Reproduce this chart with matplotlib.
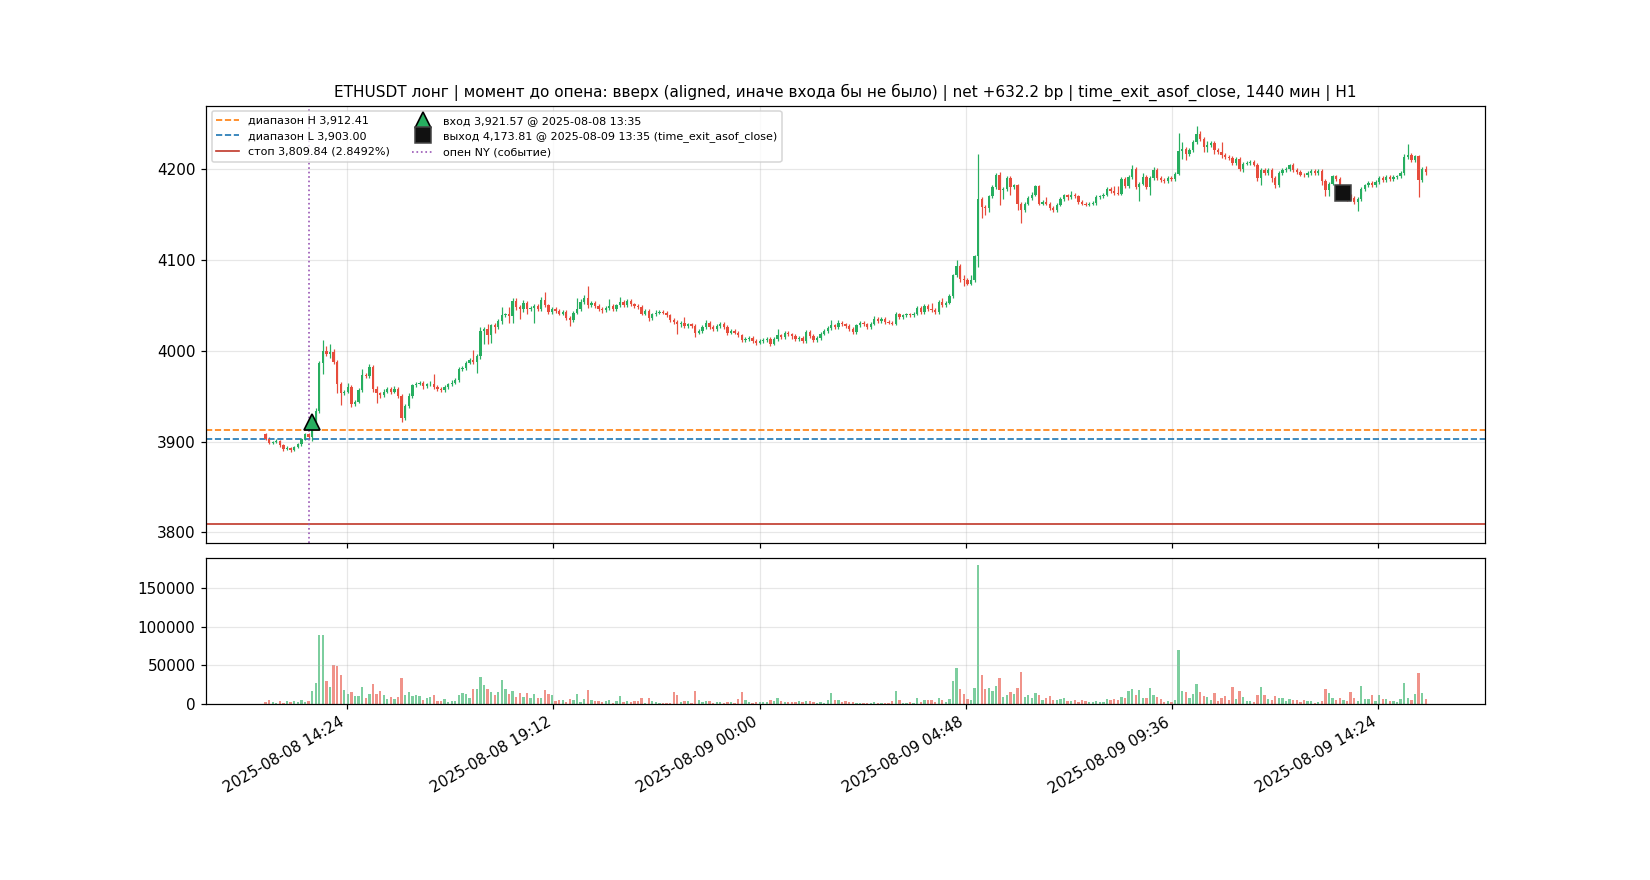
# ETHUSDT 5m candles around the NY open, long trade with 1440 min time exit

import numpy as np
import pandas as pd
import matplotlib
matplotlib.use("Agg")
import matplotlib.pyplot as plt
import matplotlib.dates as mdates
from matplotlib.ticker import MultipleLocator

# --- data ---
start_time = "2025-08-08 12:30"
first_open = 3908

# closes, one row = one hour of 5m candles
closes = [
    3903, 3899, 3900, 3901, 3896, 3892, 3893, 3891, 3894, 3897, 3903, 3908,
    3905, 3921, 3934, 3987, 4000, 3997, 3999, 3988, 3964, 3953, 3955, 3960,
    3941, 3944, 3957, 3973, 3972, 3982, 3958, 3953, 3951, 3955, 3958, 3955,
    3958, 3950, 3926, 3939, 3950, 3962, 3964, 3965, 3961, 3963, 3964, 3960,
    3958, 3957, 3960, 3963, 3965, 3968, 3980, 3981, 3987, 3990, 3988, 3994,
    4022, 4024, 4017, 4028, 4026, 4033, 4039, 4040, 4038, 4055, 4048, 4046,
    4053, 4046, 4047, 4049, 4046, 4056, 4050, 4043, 4046, 4044, 4041, 4043,
    4036, 4034, 4042, 4046, 4054, 4058, 4050, 4053, 4049, 4046, 4045, 4047,
    4049, 4046, 4050, 4054, 4050, 4055, 4051, 4049, 4048, 4041, 4044, 4036,
    4040, 4042, 4043, 4042, 4039, 4034, 4032, 4029, 4031, 4027, 4029, 4027,
    4020, 4022, 4026, 4031, 4026, 4024, 4027, 4030, 4026, 4020, 4022, 4020,
    4017, 4012, 4013, 4014, 4011, 4009, 4011, 4012, 4013, 4008, 4013, 4017,
    4015, 4020, 4018, 4016, 4013, 4014, 4011, 4021, 4016, 4012, 4014, 4019,
    4022, 4025, 4028, 4026, 4031, 4029, 4027, 4024, 4021, 4028, 4031, 4029,
    4026, 4030, 4035, 4033, 4035, 4032, 4031, 4030, 4040, 4037, 4039, 4040,
    4039, 4041, 4047, 4043, 4049, 4046, 4045, 4043, 4054, 4050, 4053, 4060,
    4083, 4093, 4079, 4078, 4074, 4078, 4104, 4167, 4158, 4157, 4170, 4180,
    4194, 4177, 4178, 4190, 4180, 4182, 4162, 4155, 4162, 4168, 4172, 4181,
    4162, 4164, 4162, 4157, 4155, 4161, 4167, 4171, 4169, 4172, 4170, 4164,
    4162, 4161, 4162, 4163, 4169, 4170, 4172, 4178, 4176, 4174, 4173, 4189,
    4181, 4191, 4200, 4180, 4184, 4191, 4180, 4190, 4199, 4190, 4188, 4187,
    4190, 4189, 4195, 4220, 4222, 4217, 4221, 4230, 4239, 4233, 4224, 4226,
    4229, 4221, 4219, 4216, 4213, 4212, 4207, 4211, 4200, 4206, 4207, 4208,
    4205, 4190, 4199, 4196, 4199, 4190, 4182, 4196, 4199, 4200, 4204, 4199,
    4197, 4194, 4193, 4196, 4198, 4196, 4198, 4187, 4177, 4184, 4192, 4189,
    4176, 4178, 4171, 4168, 4164, 4167, 4178, 4182, 4185, 4182, 4186, 4190,
    4188, 4191, 4189, 4191, 4192, 4196, 4213, 4216, 4210, 4214, 4188, 4200,
    4197,
]

# wick above the body / below the body, in $
wick_up = [
    2, 2, 1, 2, 1, 1, 2, 1, 1, 2, 1, 2,
    2, 3, 3, 2, 12, 5, 8, 3, 2, 2, 2, 5,
    2, 2, 2, 7, 3, 4, 2, 3, 2, 3, 2, 2,
    3, 2, 2, 2, 3, 2, 2, 2, 2, 2, 3, 10,
    2, 2, 2, 2, 3, 2, 2, 2, 2, 2, 11, 3,
    4, 2, 6, 2, 3, 2, 9, 2, 8, 3, 3, 2,
    3, 2, 2, 2, 2, 3, 9, 2, 2, 2, 2, 2,
    2, 2, 2, 12, 3, 3, 13, 2, 2, 2, 2, 2,
    8, 2, 2, 5, 2, 2, 2, 2, 2, 2, 2, 2,
    2, 3, 2, 2, 2, 2, 2, 2, 2, 6, 2, 2,
    2, 2, 2, 3, 2, 2, 2, 2, 2, 2, 2, 2,
    2, 2, 2, 2, 2, 2, 2, 2, 2, 2, 2, 7,
    2, 2, 2, 2, 2, 2, 2, 2, 2, 2, 2, 2,
    2, 2, 6, 2, 3, 2, 2, 2, 2, 2, 2, 2,
    2, 2, 3, 2, 2, 2, 2, 2, 3, 2, 2, 2,
    2, 2, 2, 2, 2, 2, 7, 2, 2, 4, 2, 2,
    2, 7, 2, 4, 2, 5, 2, 50, 2, 2, 2, 3,
    2, 3, 2, 2, 2, 2, 2, 2, 2, 2, 3, 2,
    2, 2, 5, 2, 2, 2, 2, 2, 2, 4, 2, 2,
    2, 2, 2, 2, 2, 2, 2, 2, 2, 5, 7, 2,
    2, 2, 5, 2, 2, 5, 2, 2, 3, 2, 2, 2,
    2, 2, 2, 20, 8, 2, 2, 2, 9, 3, 2, 5,
    2, 2, 2, 11, 2, 2, 2, 2, 2, 2, 2, 2,
    2, 2, 2, 2, 2, 2, 2, 2, 2, 2, 2, 3,
    2, 2, 2, 2, 2, 2, 2, 2, 2, 2, 2, 2,
    2, 2, 2, 2, 2, 2, 2, 2, 2, 2, 2, 2,
    2, 2, 2, 2, 2, 2, 4, 12, 2, 2, 2, 2,
    3,
]
wick_dn = [
    1, 2, 2, 1, 2, 2, 1, 2, 1, 1, 2, 1,
    2, 4, 3, 2, 12, 3, 5, 2, 10, 13, 2, 2,
    3, 2, 2, 2, 2, 2, 3, 10, 3, 2, 2, 3,
    2, 2, 4, 2, 2, 2, 2, 2, 3, 2, 2, 2,
    2, 2, 2, 2, 2, 2, 2, 2, 2, 2, 2, 12,
    3, 15, 10, 8, 6, 2, 3, 2, 7, 7, 3, 11,
    3, 5, 2, 16, 2, 2, 2, 3, 2, 2, 2, 2,
    2, 7, 2, 2, 2, 2, 3, 2, 2, 2, 3, 2,
    2, 2, 2, 2, 2, 2, 2, 2, 2, 2, 2, 3,
    2, 2, 2, 2, 2, 2, 2, 11, 3, 2, 2, 2,
    5, 2, 2, 2, 2, 2, 2, 2, 2, 3, 2, 2,
    2, 2, 2, 2, 2, 3, 2, 2, 2, 3, 2, 2,
    2, 2, 2, 3, 2, 2, 2, 2, 2, 2, 2, 2,
    2, 2, 2, 2, 2, 2, 2, 2, 2, 2, 2, 2,
    2, 2, 2, 2, 2, 3, 2, 2, 2, 2, 2, 2,
    2, 2, 2, 2, 2, 2, 2, 2, 2, 2, 2, 2,
    2, 2, 3, 7, 2, 2, 2, 12, 12, 7, 4, 2,
    2, 17, 10, 2, 8, 2, 7, 14, 2, 2, 2, 2,
    2, 2, 2, 2, 2, 2, 2, 2, 3, 2, 2, 2,
    2, 2, 2, 2, 2, 2, 2, 2, 2, 2, 2, 2,
    2, 2, 2, 2, 15, 2, 2, 8, 2, 2, 2, 2,
    2, 2, 2, 1, 9, 7, 3, 2, 2, 2, 5, 5,
    2, 4, 2, 4, 2, 2, 3, 2, 2, 3, 2, 2,
    2, 3, 7, 2, 2, 4, 3, 2, 2, 2, 2, 2,
    2, 2, 2, 2, 2, 2, 2, 4, 7, 7, 2, 2,
    2, 2, 6, 2, 2, 10, 2, 2, 2, 2, 2, 2,
    2, 2, 2, 2, 2, 2, 2, 2, 2, 2, 19, 2,
    3,
]

# volume, thousands
volume_k = [
    2.6, 5.3, 2.6, 1.3, 4, 1.3, 4, 2.6, 4, 2.6, 5.3, 2.6,
    4, 17, 27.6, 89.5, 89.5, 30, 22, 50, 48.7, 38, 18.4, 13,
    15.8, 10.5, 10.5, 22, 7.9, 13, 26, 13, 17, 11.8, 6.6, 9.2,
    6.6, 9.2, 34, 11.8, 15.8, 10.5, 11.8, 10.5, 5.3, 7.9, 9.2, 11.8,
    4, 4, 6.6, 2.6, 4, 4, 11.8, 14.5, 13, 7.9, 19.7, 19.7,
    35.5, 25, 19.7, 15.8, 11.8, 15.8, 31.6, 19.7, 13, 17, 9.2, 14.5,
    9.2, 14.5, 7.9, 13, 7.9, 7.9, 18.4, 13, 11.8, 4, 5.3, 5.3,
    2.6, 6.6, 5.3, 13, 2.6, 6.6, 18.4, 5.3, 4, 4, 2.6, 4,
    5.3, 1.3, 4, 10.5, 2.6, 4, 2.6, 4, 4, 7.9, 1.3, 7.9,
    4, 2.6, 1.3, 1.3, 1.3, 1.3, 15.8, 11.8, 2.6, 4, 4, 1.3,
    17, 5.3, 2.6, 4, 4, 1.3, 2.6, 2.6, 1.3, 2.6, 2.6, 1.3,
    6.6, 15.8, 5.3, 2.6, 1.3, 2.6, 2.6, 2.6, 2.6, 5.3, 4, 7.9,
    4, 2.6, 2.6, 2.6, 2.6, 4, 2.6, 4, 4, 2.6, 1.3, 2.6,
    1.3, 5.3, 14.5, 5.3, 5.3, 2.6, 4, 2.6, 2.6, 1.3, 1.3, 1.3,
    1.3, 1.3, 2.6, 1.3, 1.3, 1.3, 1.3, 4, 17, 5.3, 1.3, 1.3,
    2.6, 1.3, 7.9, 2.6, 5.3, 5.3, 5.3, 2.6, 7.9, 5.3, 2.6, 6.6,
    30, 47, 19.7, 13, 6.6, 5.3, 21, 180, 38, 19.7, 21, 17,
    23.7, 34, 9.2, 11.8, 15.8, 13, 21, 42, 9.2, 11.8, 7.9, 14.5,
    11.8, 5.3, 7.9, 10.5, 5.3, 5.3, 6.6, 7.9, 4, 4, 5.3, 2.6,
    5.3, 4, 2.6, 2.6, 4, 2.6, 2.6, 6.6, 5.3, 6.6, 5.3, 9.2,
    7.9, 17, 19.7, 11.8, 18.4, 7.9, 7.9, 21, 11.8, 9.2, 6.6, 2.6,
    4, 2.6, 5.3, 69.7, 17, 15.8, 7.9, 13, 26, 15.8, 10.5, 9.2,
    5.3, 14.5, 4, 7.9, 10.5, 5.3, 22, 6.6, 17, 9.2, 4, 4,
    2.6, 11.8, 22, 11.8, 6.6, 5.3, 10.5, 7.9, 7.9, 4, 6.6, 5.3,
    5.3, 2.6, 5.3, 4, 4, 1.3, 2.6, 4, 19.7, 14.5, 7.9, 5.3,
    7.9, 5.3, 4, 15.8, 7.9, 4, 23.7, 6.6, 6.6, 11.8, 4, 11.8,
    6.6, 6.6, 4, 4, 2.6, 6.6, 27.6, 7.9, 5.3, 13, 39.5, 14.5,
    6.6,
]

# trade levels
range_hi = 3912.41
range_lo = 3903.00
stop_price = 3809.84
stop_pct = 2.8492
entry_time = "2025-08-08 13:35"
entry_price = 3921.57
exit_time = "2025-08-09 13:35"
exit_price = 4173.81
ny_open_time = "2025-08-08 13:30"

# --- build OHLC ---
times = pd.date_range(start_time, periods=len(closes), freq="5min")
x = mdates.date2num(times)
c = np.array(closes, dtype=float)
o = np.concatenate([[first_open], c[:-1]])
h = np.maximum(o, c) + np.array(wick_up)
l = np.minimum(o, c) - np.array(wick_dn)
vol = np.array(volume_k) * 1000

up = c >= o
green = "#27ae60"
red = "#e74c3c"
colors = np.where(up, green, red)

bar_w = 5 / 1440 * 0.65

fig = plt.figure(figsize=(15, 8), dpi=110)
gs = fig.add_gridspec(2, 1, height_ratios=[3, 1], hspace=0.05)
ax = fig.add_subplot(gs[0])
axv = fig.add_subplot(gs[1], sharex=ax)

# candles
ax.vlines(x, l, h, colors=colors, linewidth=0.8, zorder=2)
body = np.abs(c - o)
body = np.where(body < 0.4, 0.4, body)
ax.bar(x, body, bottom=np.minimum(o, c), width=bar_w, color=colors,
       linewidth=0, zorder=3)

# levels
ax.axhline(range_hi, color="#ff7f0e", linestyle="--", linewidth=1.1,
           label=f"диапазон H {range_hi:,.2f}")
ax.axhline(range_lo, color="#1f77b4", linestyle="--", linewidth=1.1,
           label=f"диапазон L {range_lo:,.2f}")
ax.axhline(stop_price, color="#c0392b", linestyle="-", linewidth=1.1,
           label=f"стоп {stop_price:,.2f} ({stop_pct:.4f}%)")

# entry / exit
ax.plot(mdates.date2num(pd.Timestamp(entry_time)), entry_price, marker="^",
        markersize=11, color=green, markeredgecolor="black", markeredgewidth=1.1,
        linestyle="none", zorder=5,
        label=f"вход {entry_price:,.2f} @ {entry_time}")
ax.plot(mdates.date2num(pd.Timestamp(exit_time)), exit_price, marker="s",
        markersize=10, color="#111111", markeredgecolor="#444444",
        linestyle="none", zorder=5,
        label=f"выход {exit_price:,.2f} @ {exit_time} (time_exit_asof_close)")

ax.axvline(mdates.date2num(pd.Timestamp(ny_open_time)), color="#9b59b6",
           linestyle=":", linewidth=1.1, label="опен NY (событие)")

ax.set_title("ETHUSDT лонг | момент до опена: вверх (aligned, иначе входа бы не было)"
             " | net +632.2 bp | time_exit_asof_close, 1440 мин | H1", fontsize=10)
ax.grid(True, alpha=0.3)
ax.legend(loc="upper left", ncol=2, fontsize=7.3, numpoints=1)

# volume
axv.bar(x, vol, width=bar_w, color=colors, alpha=0.6, linewidth=0)
axv.grid(True, alpha=0.3)

axv.xaxis.set_major_locator(MultipleLocator(0.2))
axv.xaxis.set_major_formatter(mdates.DateFormatter("%Y-%m-%d %H:%M"))
fig.autofmt_xdate()

fig.savefig("out.png", dpi=110)
